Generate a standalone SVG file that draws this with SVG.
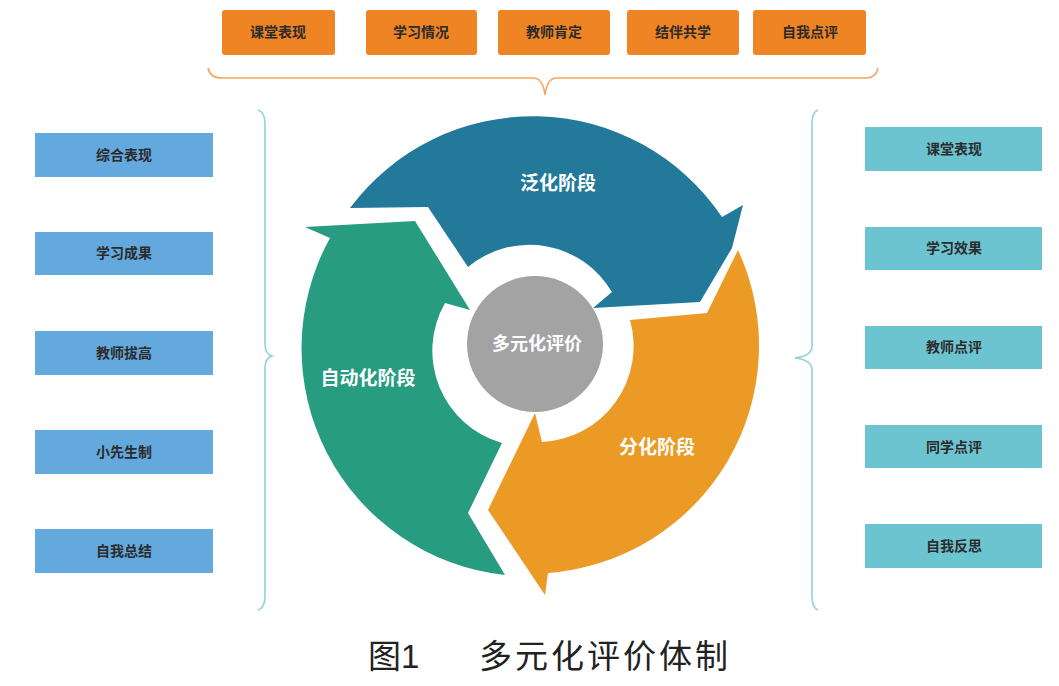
<svg xmlns="http://www.w3.org/2000/svg" width="1059" height="686" viewBox="0 0 1059 686">
<style>
.top{fill:#EF8424;}
.left{fill:#64A9DE;}
.right{fill:#6DC4D1;}
.bt{font-family:"Liberation Sans","Noto Sans CJK SC",sans-serif;font-size:14px;font-weight:700;fill:#2b2b2b;text-anchor:middle;dominant-baseline:central;}
.st{font-family:"Liberation Sans","Noto Sans CJK SC",sans-serif;font-size:19px;font-weight:700;fill:#ffffff;text-anchor:middle;dominant-baseline:central;}
.cap{font-family:"Liberation Sans","Noto Sans CJK SC",sans-serif;font-size:33px;fill:#222;}
.brace{fill:none;stroke-width:1.6;}
</style>
<rect width="1059" height="686" fill="#ffffff"/>

<g id="top-1"><rect class="top" x="222" y="10" width="113" height="45" rx="3"/><text class="bt" x="278" y="32">课堂表现</text></g>
<g id="top-2"><rect class="top" x="366" y="10" width="111" height="45" rx="3"/><text class="bt" x="421" y="32">学习情况</text></g>
<g id="top-3"><rect class="top" x="498" y="10" width="112" height="45" rx="3"/><text class="bt" x="554" y="32">教师肯定</text></g>
<g id="top-4"><rect class="top" x="627" y="10" width="112" height="45" rx="3"/><text class="bt" x="683" y="32">结伴共学</text></g>
<g id="top-5"><rect class="top" x="753" y="10" width="113" height="45" rx="3"/><text class="bt" x="810" y="32">自我点评</text></g>

<g id="left-1"><rect class="left" x="35" y="133" width="178" height="44"/><text class="bt" x="124" y="155">综合表现</text></g>
<g id="left-2"><rect class="left" x="35" y="232" width="178" height="43"/><text class="bt" x="124" y="253">学习成果</text></g>
<g id="left-3"><rect class="left" x="35" y="331" width="178" height="44"/><text class="bt" x="124" y="353">教师拔高</text></g>
<g id="left-4"><rect class="left" x="35" y="430" width="178" height="44"/><text class="bt" x="124" y="452">小先生制</text></g>
<g id="left-5"><rect class="left" x="35" y="529" width="178" height="44"/><text class="bt" x="124" y="551">自我总结</text></g>

<g id="right-1"><rect class="right" x="865" y="127" width="177" height="44"/><text class="bt" x="954" y="149">课堂表现</text></g>
<g id="right-2"><rect class="right" x="865" y="227" width="177" height="43"/><text class="bt" x="954" y="248">学习效果</text></g>
<g id="right-3"><rect class="right" x="865" y="326" width="177" height="43"/><text class="bt" x="954" y="347">教师点评</text></g>
<g id="right-4"><rect class="right" x="865" y="425" width="177" height="43"/><text class="bt" x="954" y="447">同学点评</text></g>
<g id="right-5"><rect class="right" x="865" y="524" width="177" height="44"/><text class="bt" x="954" y="546">自我反思</text></g>

<g id="stage-fanhua">
<path fill="#23799A" d="M350,208 A228,228 0 0,1 722,217 L743,205 L732,248 L700,302 L593,308 L612,292 A96,96 0 0,0 468,267 L428,207 Z"/>
<text class="st" x="558" y="183">泛化阶段</text>
</g>
<g id="stage-fenhua">
<path fill="#EA9A25" d="M738,250 A228,228 0 0,1 548,573 L545,595 L488,510 L535,413 L542,442 A96,96 0 0,0 630,320 L707,313 Z"/>
<text class="st" x="657" y="447">分化阶段</text>
</g>
<g id="stage-zidonghua">
<path fill="#289C80" d="M505,575 A228,228 0 0,1 330,238 L305,227 L415,221 L470,310 L445,303 A96,96 0 0,0 502,443 L468,513 Z"/>
<text class="st" x="368" y="378">自动化阶段</text>
</g>
<g id="center">
<circle cx="535" cy="344" r="68" fill="#A3A3A3"/>
<text class="st" x="537" y="344" style="font-size:18px">多元化评价</text>
</g>

<g id="connectors">
<path class="brace" stroke="#F4A763" d="M208,68 Q210,78 222,78 L533,78 Q543,78 545,95 Q547,78 557,78 L866,78 Q876,78 878,68"/>
<path class="brace" stroke="#8ED3D9" d="M258,110 Q265,112 265,124 L265,344 Q265,354 272,356 Q265,358 265,368 L265,596 Q265,608 258,610"/>
<path class="brace" stroke="#8ED3D9" d="M818,110 Q812,112 812,124 L812,346 Q812,356 795,358 Q812,360 812,370 L812,596 Q812,608 818,610"/>
</g>

<g id="caption">
<text class="cap" x="368" y="668">图1</text>
<text class="cap" x="479" y="668" letter-spacing="3">多元化评价体制</text>
</g>
</svg>
